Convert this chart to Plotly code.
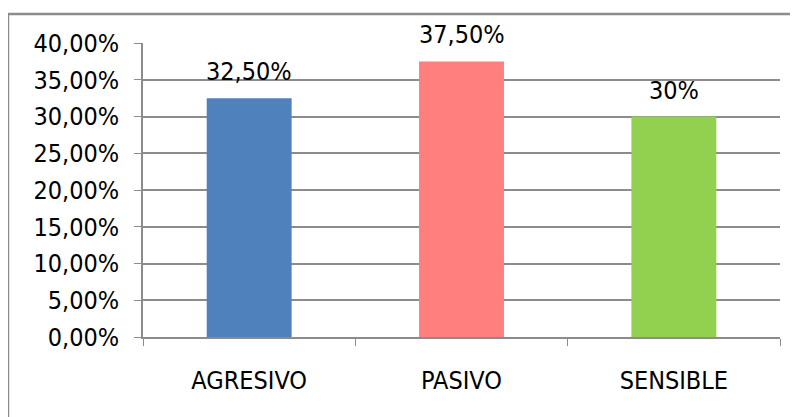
import plotly.graph_objects as go

categories = ["AGRESIVO", "PASIVO", "SENSIBLE"]
values = [0.325, 0.375, 0.30]
value_labels = ["32,50%", "37,50%", "30%"]
bar_colors = ["#4F81BD", "#FF7F7F", "#92D050"]

y_ticks = [0, 0.05, 0.10, 0.15, 0.20, 0.25, 0.30, 0.35, 0.40]

FONT = "DejaVu Sans Condensed, DejaVu Sans, sans-serif"

fig = go.Figure(go.Bar(
    x=categories,
    y=values,
    width=0.4,
    marker=dict(color=bar_colors, line=dict(width=0)),
    cliponaxis=False,
))

# data labels above bars, with a small gap like the original
for cat, val, lab in zip(categories, values, value_labels):
    fig.add_annotation(
        x=cat, y=val, text=lab,
        showarrow=False, yanchor="bottom", yshift=10,
        font=dict(size=25, color="black", family=FONT),
    )

# outer chart border
fig.add_shape(
    type="rect", xref="paper", yref="paper",
    x0=-0.212, x1=1.2, y0=-0.6, y1=1.0986,
    line=dict(color="#8c8c8c", width=2.5),
    layer="below",
)

fig.update_layout(
    width=798,
    height=417,
    margin=dict(l=135, r=26, t=35, b=88),
    paper_bgcolor="white",
    plot_bgcolor="white",
    separators=",.",
    showlegend=False,
    font=dict(family=FONT, size=25, color="black"),
    xaxis=dict(
        type="category",
        tickson="boundaries",
        ticks="outside",
        ticklen=7,
        tickcolor="#8c8c8c",
        showline=True,
        linecolor="#8c8c8c",
        linewidth=1.5,
        showgrid=False,
        automargin=False,
        ticklabelstandoff=20,
        tickfont=dict(size=25, family=FONT),
    ),
    yaxis=dict(
        range=[0, 0.40],
        tickvals=y_ticks,
        tickformat=".2%",
        ticks="outside",
        ticklen=7,
        tickcolor="#8c8c8c",
        showline=True,
        linecolor="#8c8c8c",
        linewidth=1.5,
        showgrid=True,
        gridcolor="#8c8c8c",
        gridwidth=1.5,
        zeroline=False,
        automargin=False,
        ticklabelstandoff=10,
        tickfont=dict(size=25, family=FONT),
    ),
)

fig.write_html("out.html")
